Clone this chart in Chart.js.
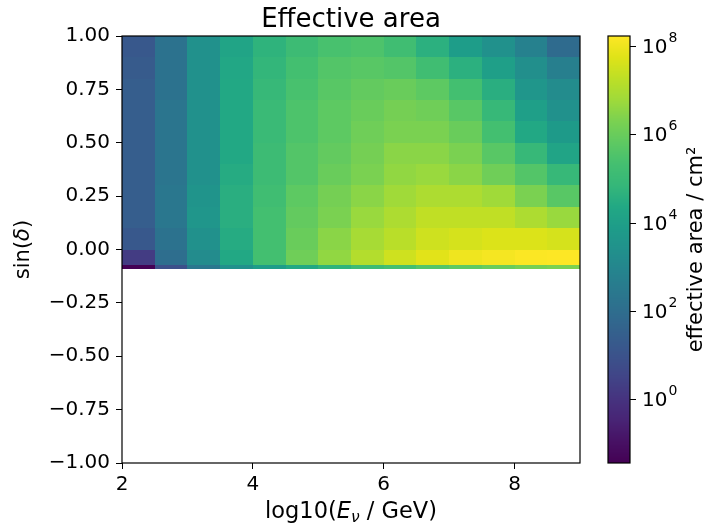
<!DOCTYPE html>
<html>
<head>
<meta charset="utf-8">
<script src="https://cdn.jsdelivr.net/npm/chart.js@4.4.1/dist/chart.umd.min.js"></script>
<style>
  html, body { margin: 0; padding: 0; background: #fff; }
</style>
</head>
<body>
<div style="width:708px;height:528px">
  <canvas id="effAreaChart" width="708" height="528"></canvas>
</div>
<script>
// bin edges
const xEdges = [2, 2.5, 3, 3.5, 4, 4.5, 5, 5.5, 6, 6.5, 7, 7.5, 8, 8.5, 9];
const yEdges = [-0.092, -0.073, 0, 0.1, 0.2, 0.3, 0.4, 0.5, 0.6, 0.7, 0.8, 0.9, 1.0];

// log10(effective area / cm^2), one row per sin(dec) bin, lowest bin first
const logArea = [
  [-1.45, 0.9, 2.4, 3.4, 3.9, 4.35, 4.7, 5.1, 5.3, 5.6, 5.8, 6.0, 6.2, 6.3],
  [0.25, 2.0, 3.2, 4.35, 5.3, 6.1, 6.6, 7.1, 7.5, 7.8, 8.0, 8.1, 8.2, 8.23],
  [1.2, 2.2, 3.4, 4.45, 5.3, 6.0, 6.5, 6.9, 7.2, 7.5, 7.6, 7.7, 7.7, 7.6],
  [1.4, 2.4, 3.6, 4.55, 5.3, 5.9, 6.3, 6.7, 7.0, 7.3, 7.3, 7.3, 7.0, 6.7],
  [1.4, 2.4, 3.5, 4.55, 5.2, 5.8, 6.2, 6.5, 6.8, 7.0, 7.0, 6.8, 6.3, 5.7],
  [1.4, 2.3, 3.4, 4.45, 5.1, 5.6, 6.0, 6.3, 6.6, 6.7, 6.5, 6.1, 5.6, 4.9],
  [1.4, 2.3, 3.4, 4.35, 5.1, 5.6, 5.9, 6.2, 6.5, 6.5, 6.3, 5.7, 4.9, 4.2],
  [1.4, 2.3, 3.4, 4.35, 5.0, 5.5, 5.8, 6.1, 6.3, 6.3, 6.0, 5.3, 4.35, 3.8],
  [1.4, 2.3, 3.4, 4.35, 5.0, 5.5, 5.8, 6.0, 6.2, 6.1, 5.7, 4.9, 4.0, 3.4],
  [1.4, 2.2, 3.4, 4.35, 4.9, 5.4, 5.7, 5.9, 6.0, 5.8, 5.3, 4.55, 3.6, 3.2],
  [1.3, 2.2, 3.4, 4.3, 4.8, 5.3, 5.6, 5.7, 5.6, 5.2, 4.6, 4.0, 3.3, 2.7],
  [1.2, 2.2, 3.4, 4.2, 4.7, 5.1, 5.4, 5.5, 5.2, 4.6, 3.9, 3.4, 2.8, 1.9],
];

const xTicks = [2, 4, 6, 8];
const yTicks = [-1, -0.75, -0.5, -0.25, 0, 0.25, 0.5, 0.75, 1];
const cbTicks = [0, 2, 4, 6, 8]; // powers of ten

const minL = Math.min(...logArea.flat());
const maxL = Math.max(...logArea.flat());

const FONT = "'DejaVu Sans', sans-serif";

// viridis
const viridisStops = [
  "#440154", "#471164", "#482475", "#46337f", "#414487", "#3b528b", "#355f8d",
  "#2f6c8e", "#2a788e", "#25848e", "#21918c", "#1e9c89", "#22a884", "#35b779",
  "#44bf70", "#5ec962", "#7ad151", "#9fda3a", "#bddf26", "#dfe318", "#fde725"
].map(h => [parseInt(h.slice(1, 3), 16), parseInt(h.slice(3, 5), 16), parseInt(h.slice(5, 7), 16)]);

function viridis(t) {
  t = Math.max(0, Math.min(1, t));
  const p = t * (viridisStops.length - 1);
  const i = Math.min(Math.floor(p), viridisStops.length - 2);
  const f = p - i;
  const a = viridisStops[i], b = viridisStops[i + 1];
  return "rgb(" + [0, 1, 2].map(k => Math.round(a[k] + (b[k] - a[k]) * f)).join(",") + ")";
}

// fraction along the colour scale, through the hidden log scale
function colourFor(cb, v) {
  const p = cb.getPixelForValue(v);
  return viridis((cb.bottom - p) / (cb.bottom - cb.top));
}

const heatmap = {
  id: "heatmap",
  beforeDatasetsDraw(chart) {
    const { ctx, chartArea } = chart;
    const xs = chart.scales.x, ys = chart.scales.y, cb = chart.scales.cb;
    ctx.save();
    ctx.beginPath();
    ctx.rect(chartArea.left, chartArea.top, chartArea.right - chartArea.left, chartArea.bottom - chartArea.top);
    ctx.clip();
    for (let j = 0; j < logArea.length; j++) {
      const y0 = Math.round(ys.getPixelForValue(yEdges[j + 1]));
      const y1 = Math.round(ys.getPixelForValue(yEdges[j]));
      for (let i = 0; i < logArea[j].length; i++) {
        const x0 = Math.round(xs.getPixelForValue(xEdges[i]));
        const x1 = Math.round(xs.getPixelForValue(xEdges[i + 1]));
        ctx.fillStyle = colourFor(cb, Math.pow(10, logArea[j][i]));
        ctx.fillRect(x0, y0, x1 - x0, y1 - y0);
      }
    }
    ctx.restore();
  },
  afterDraw(chart) {
    const { ctx, chartArea } = chart;
    const cb = chart.scales.cb;
    ctx.save();

    // spines
    ctx.strokeStyle = "#000";
    ctx.lineWidth = 1.2;
    ctx.strokeRect(chartArea.left, chartArea.top, chartArea.right - chartArea.left, chartArea.bottom - chartArea.top);

    // title
    ctx.fillStyle = "#000";
    ctx.textAlign = "center";
    ctx.textBaseline = "alphabetic";
    ctx.font = "26px " + FONT;
    const cx = (chartArea.left + chartArea.right) / 2;
    ctx.fillText("Effective area", cx, 27);

    // x label: log10(E_nu / GeV)
    const parts = [
      { t: "log10(", f: "22.5px " + FONT, dy: 0 },
      { t: "E", f: "italic 22.5px " + FONT, dy: 0 },
      { t: "\u03bd", f: "italic 15.5px " + FONT, dy: 4 },
      { t: " / GeV)", f: "22.5px " + FONT, dy: 0 },
    ];
    let w = 0;
    parts.forEach(p => { ctx.font = p.f; p.w = ctx.measureText(p.t).width; w += p.w; });
    let x = cx - w / 2;
    ctx.textAlign = "left";
    parts.forEach(p => { ctx.font = p.f; ctx.fillText(p.t, x, 518 + p.dy); x += p.w; });

    // y label: sin(delta)
    const yparts = [
      { t: "sin(", f: "21px " + FONT },
      { t: "\u03b4", f: "italic 21px " + FONT },
      { t: ")", f: "21px " + FONT },
    ];
    w = 0;
    yparts.forEach(p => { ctx.font = p.f; p.w = ctx.measureText(p.t).width; w += p.w; });
    ctx.save();
    ctx.translate(29, (chartArea.top + chartArea.bottom) / 2);
    ctx.rotate(-Math.PI / 2);
    x = -w / 2;
    yparts.forEach(p => { ctx.font = p.f; ctx.fillText(p.t, x, 0); x += p.w; });
    ctx.restore();

    // colorbar
    const bx = 608, bw = 22;
    for (let py = Math.floor(cb.top); py < Math.ceil(cb.bottom); py++) {
      const v = cb.getValueForPixel(py + 0.5);
      ctx.fillStyle = colourFor(cb, v);
      ctx.fillRect(bx, py, bw, 1);
    }
    ctx.strokeStyle = "#000";
    ctx.lineWidth = 1.2;
    ctx.strokeRect(bx, cb.top, bw, cb.bottom - cb.top);

    ctx.lineWidth = 1;
    ctx.fillStyle = "#000";
    cbTicks.forEach(k => {
      const py = Math.round(cb.getPixelForValue(Math.pow(10, k))) + 0.5;
      ctx.beginPath();
      ctx.moveTo(bx + bw, py);
      ctx.lineTo(bx + bw + 6, py);
      ctx.stroke();
      ctx.textBaseline = "middle";
      ctx.font = "20px " + FONT;
      ctx.fillText("10", bx + bw + 12, py + 1);
      const tw = ctx.measureText("10").width;
      ctx.font = "14px " + FONT;
      ctx.fillText(String(k), bx + bw + 12 + tw + 1, py - 8);
    });

    // colorbar label
    ctx.save();
    ctx.translate(697, (cb.top + cb.bottom) / 2);
    ctx.rotate(-Math.PI / 2);
    ctx.textAlign = "center";
    ctx.textBaseline = "middle";
    ctx.font = "21px " + FONT;
    ctx.fillText("effective area / cm\u00b2", 0, 0);
    ctx.restore();

    ctx.restore();
  },
};

const tickFont = { family: FONT, size: 20 };

new Chart(document.getElementById("effAreaChart"), {
  type: "scatter",
  data: { datasets: [] },
  options: {
    responsive: false,
    animation: false,
    layout: { padding: { left: 0, right: 128, top: 36, bottom: 0 } },
    plugins: { legend: { display: false }, tooltip: { enabled: false }, title: { display: false } },
    scales: {
      x: {
        type: "linear",
        min: 2,
        max: 9,
        afterBuildTicks: s => { s.ticks = xTicks.map(v => ({ value: v })); },
        afterFit: s => { s.height = 65; },
        border: { display: false },
        grid: { drawOnChartArea: false, tickLength: 6, tickColor: "#000", tickWidth: 1 },
        ticks: { color: "#000", font: tickFont, padding: 4, maxRotation: 0, autoSkip: false, callback: v => String(v) },
      },
      y: {
        type: "linear",
        min: -1,
        max: 1,
        afterBuildTicks: s => { s.ticks = yTicks.map(v => ({ value: v })); },
        afterFit: s => { s.width = 122; },
        border: { display: false },
        grid: { drawOnChartArea: false, tickLength: 6, tickColor: "#000", tickWidth: 1 },
        ticks: {
          color: "#000", font: tickFont, padding: 6, autoSkip: false,
          callback: v => (v < 0 ? "\u2212" : "") + Math.abs(v).toFixed(2),
        },
      },
      cb: {
        type: "logarithmic",
        axis: "y",
        position: "right",
        display: false,
        min: Math.pow(10, minL),
        max: Math.pow(10, maxL),
      },
    },
  },
  plugins: [heatmap],
});
</script>
</body>
</html>
